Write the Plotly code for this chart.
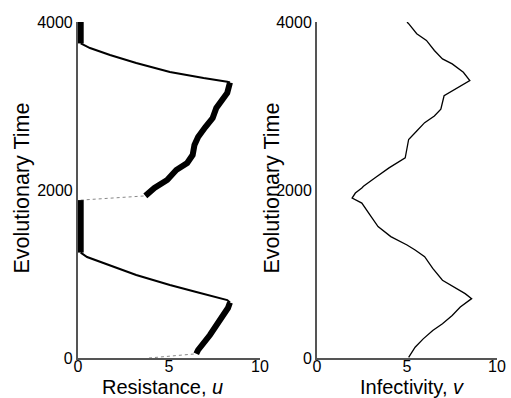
import plotly.graph_objects as go

# ---- Left panel: resistance u over evolutionary time (segments) ----
# faint dotted jumps
jump1_u = [3.9, 6.5]
jump1_t = [0, 50]
jump2_u = [0.15, 3.7]
jump2_t = [1880, 1930]

# thick rising branch 1
segA_u = [6.5, 6.6, 7.25, 7.9, 8.24, 8.35]
segA_t = [50, 95, 274, 476, 595, 660]
# thin falling branch 1
segB_u = [8.35, 8.2, 6.5, 5.05, 3.2, 1.76, 0.5, 0.15]
segB_t = [660, 690, 786, 869, 988, 1107, 1202, 1255]
# near-zero plateau 1
segC_u = [0.15, 0.15]
segC_t = [1255, 1880]
# thick rising branch 2
segD_u = [3.7, 4.2, 4.9, 5.4, 6.0, 6.3, 6.4, 6.6, 7.0, 7.4, 7.6, 7.9, 8.2, 8.35]
segD_t = [1930, 2024, 2119, 2238, 2321, 2417, 2536, 2631, 2750, 2857, 2976, 3071, 3155, 3280]
# thin falling branch 2
segE_u = [8.35, 8.2, 6.9, 5.05, 3.2, 1.76, 0.66, 0.15]
segE_t = [3280, 3290, 3333, 3405, 3512, 3607, 3690, 3745]
# near-zero plateau 2
segF_u = [0.15, 0.15]
segF_t = [3745, 4000]

# ---- Right panel: infectivity v over evolutionary time ----
inf_v = [5.09, 5.45, 5.9, 6.43, 6.97, 7.51, 7.96, 8.59, 8.23, 7.6, 6.97, 6.43, 5.98,
         5.45, 5.0, 4.1, 3.39, 2.94, 2.49, 1.95, 2.13, 2.49, 2.58, 3.21, 4.0, 4.9,
         5.0, 5.09, 5.54, 5.98, 6.52, 6.88, 7.06, 7.69, 8.49, 8.13, 7.51, 6.97,
         6.52, 6.08, 5.54, 5.09, 5.0]
inf_t = [8, 128, 228, 327, 407, 507, 607, 707, 766, 847, 926, 1066, 1206,
         1285, 1345, 1445, 1565, 1704, 1844, 1904, 1964, 2024, 2044, 2144, 2263, 2383,
         2523, 2602, 2703, 2802, 2882, 2962, 3122, 3202, 3302, 3401, 3501, 3561,
         3661, 3781, 3860, 3980, 4000]

x_ticks = [0, 5, 10]
y_ticks = [0, 2000, 4000]

y_title = "Evolutionary Time"
x_title_left = "Resistance, <i>u</i>"
x_title_right = "Infectivity, <i>v</i>"

fig = go.Figure()

def seg(x, y, w, xa, ya, dash="solid", color="black"):
    fig.add_trace(go.Scatter(x=x, y=y, mode="lines", xaxis=xa, yaxis=ya,
                             line=dict(color=color, width=w, dash=dash),
                             showlegend=False, hoverinfo="skip"))

seg(jump1_u, jump1_t, 1, "x", "y", dash="dot", color="#888")
seg(jump2_u, jump2_t, 1, "x", "y", dash="dot", color="#888")
seg(segA_u, segA_t, 6, "x", "y")
seg(segB_u, segB_t, 2, "x", "y")
seg(segC_u, segC_t, 6, "x", "y")
seg(segD_u, segD_t, 6, "x", "y")
seg(segE_u, segE_t, 2, "x", "y")
seg(segF_u, segF_t, 6, "x", "y")
seg(inf_v, inf_t, 1.3, "x2", "y2")

font = "Liberation Sans, Arial, Helvetica, sans-serif"
xtfont = dict(size=20, color="black", family=font)
ytfont = dict(size=21.5, color="black", family=font)
axis_common = dict(showgrid=False, zeroline=False, showline=True, linecolor="#555",
                   linewidth=2, ticks="", tickfont=dict(size=16, color="black", family=font),
                   mirror=False, automargin=False, ticklabeloverflow="allow")

fig.update_layout(
    template="none",
    width=511, height=398,
    margin=dict(l=0, r=0, t=0, b=0),
    paper_bgcolor="white", plot_bgcolor="white",
    xaxis=dict(domain=[0.1526, 0.5088], range=[0, 10], tickvals=x_ticks,
               anchor="y", ticklabelstandoff=-7, **axis_common),
    yaxis=dict(domain=[0.1005, 0.9447], range=[0, 4000], tickvals=y_ticks,
               anchor="x", **axis_common),
    xaxis2=dict(domain=[0.6204, 0.9726], range=[0, 10], tickvals=x_ticks,
                anchor="y2", ticklabelstandoff=-7, **axis_common),
    yaxis2=dict(domain=[0.1005, 0.9447], range=[0, 4000], tickvals=y_ticks,
                anchor="x2", **axis_common),
    annotations=[
        dict(text=y_title, xref="paper", yref="paper", x=0.0431, y=0.5264, textangle=-90,
             showarrow=False, font=ytfont, xanchor="center", yanchor="middle"),
        dict(text=y_title, xref="paper", yref="paper", x=0.5323, y=0.5264, textangle=-90,
             showarrow=False, font=ytfont, xanchor="center", yanchor="middle"),
        dict(text=x_title_left, xref="paper", yref="paper", x=0.318, y=0.0276,
             showarrow=False, font=xtfont, xanchor="center", yanchor="middle"),
        dict(text=x_title_right, xref="paper", yref="paper", x=0.8072, y=0.0276,
             showarrow=False, font=xtfont, xanchor="center", yanchor="middle"),
    ],
)

fig.write_html("out.html", config={"displayModeBar": False},
               post_script="document.body.style.margin='0px';document.body.style.overflow='hidden';")
